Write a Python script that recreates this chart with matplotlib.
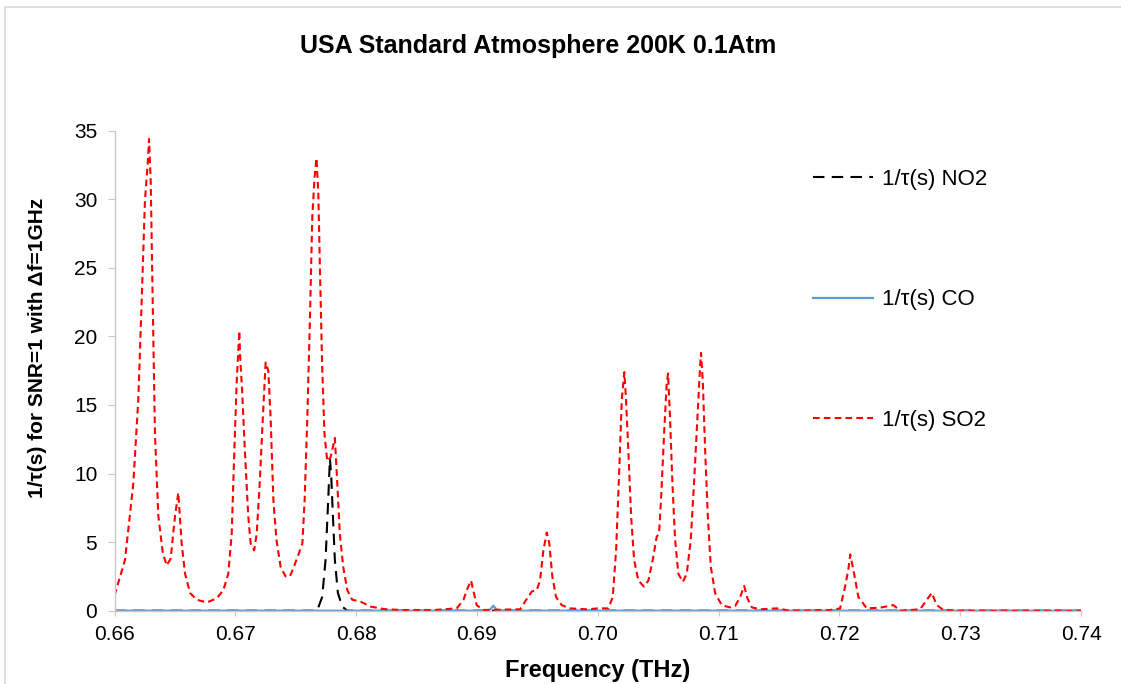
import matplotlib
matplotlib.use("Agg")
import matplotlib.pyplot as plt
from matplotlib.patches import Rectangle

plt.rcParams['font.family'] = ['Liberation Sans', 'DejaVu Sans']

# data: frequency (THz) / 1/tau (s)
so2_freq = [0.6600, 0.66087, 0.66156, 0.66197, 0.66225, 0.66252, 0.66275, 0.66286, 0.66300, 0.66316,
            0.66335, 0.66363, 0.66400, 0.66432, 0.66465, 0.66501, 0.66528, 0.66556, 0.66584, 0.66625,
            0.66680, 0.66764, 0.66846, 0.66901, 0.66942, 0.66970, 0.66992, 0.67011, 0.67033, 0.67040,
            0.67056, 0.67079, 0.67107, 0.67127, 0.67156, 0.67177, 0.67202, 0.67228, 0.67251, 0.67273,
            0.67292, 0.67315, 0.67340, 0.67375, 0.67416, 0.67452, 0.67485, 0.67527, 0.67555, 0.67574,
            0.67596, 0.67618, 0.67637, 0.67656, 0.67672, 0.67687, 0.67700, 0.67719, 0.67738, 0.67761,
            0.67789, 0.67824, 0.67844, 0.67865, 0.67893, 0.67927, 0.67968, 0.68037, 0.68120, 0.68230,
            0.68368, 0.68644, 0.68833, 0.68888, 0.68916, 0.68951, 0.68976, 0.68998, 0.69053, 0.69357,
            0.69407, 0.69454, 0.69495, 0.69522, 0.69550, 0.69578, 0.69599, 0.69624, 0.69655, 0.69702,
            0.69771, 0.69909, 0.70005, 0.70088, 0.70124, 0.70152, 0.70179, 0.70199, 0.70220, 0.70234,
            0.70253, 0.70276, 0.70301, 0.70336, 0.70383, 0.70419, 0.70455, 0.70488, 0.70507, 0.70524,
            0.70549, 0.70571, 0.70582, 0.70598, 0.70618, 0.70640, 0.70667, 0.70704, 0.70737, 0.70770,
            0.70797, 0.70825, 0.70847, 0.70855, 0.70870, 0.70889, 0.70911, 0.70936, 0.70972, 0.71027,
            0.71096, 0.71137, 0.71179, 0.71212, 0.71239, 0.71276, 0.71345, 0.71483, 0.71590, 0.71923,
            0.72006, 0.72047, 0.72074, 0.72090, 0.72122, 0.72157, 0.72227, 0.72337, 0.72447, 0.72502,
            0.72668, 0.72723, 0.72765, 0.72806, 0.72861, 0.72999, 0.7400]
so2_val = [1.1, 3.7, 9.3, 15.4, 22.6, 29.9, 32.6, 34.4, 31.2, 22.6,
           12.9, 6.9, 4.2, 3.3, 3.8, 6.9, 8.6, 4.9, 2.7, 1.3,
           0.8, 0.6, 0.9, 1.5, 2.7, 5.6, 11.7, 16.6, 20.4, 18.5,
           16.1, 11.7, 6.9, 4.9, 4.4, 5.6, 9.3, 14.1, 18.1, 17.5,
           14.1, 8.1, 5.2, 3.2, 2.5, 2.5, 3.2, 4.2, 4.9, 8.1,
           14.1, 21.4, 28.7, 31.6, 33.0, 30.4, 25.1, 17.8, 12.9, 10.9,
           11.2, 12.6, 9.3, 5.6, 3.2, 1.5, 0.8, 0.66, 0.3, 0.12,
           0.05, 0.05, 0.17, 0.78, 1.5, 2.2, 1.26, 0.4, 0.05, 0.1,
           0.78, 1.4, 1.5, 2.2, 4.4, 5.7, 4.9, 2.5, 1.0, 0.4,
           0.17, 0.1, 0.17, 0.17, 1.0, 4.4, 10.5, 15.4, 17.4, 15.4,
           11.7, 6.9, 3.7, 2.2, 1.75, 2.2, 3.7, 5.4, 5.6, 8.1,
           12.9, 16.6, 17.3, 14.1, 9.3, 5.2, 2.7, 2.1, 2.7, 5.2,
           9.3, 14.1, 17.8, 18.8, 16.6, 11.7, 6.9, 3.2, 1.26, 0.4,
           0.24, 0.34, 1.0, 1.8, 0.9, 0.24, 0.1, 0.17, 0.0, 0.05,
           0.17, 1.75, 3.0, 4.1, 2.7, 1.0, 0.17, 0.22, 0.41, 0.0,
           0.1, 0.78, 1.3, 0.41, 0.05, 0.0, 0.0]

no2_freq = [0.66, 0.67677, 0.67719, 0.67747, 0.67769, 0.67783, 0.67794, 0.67808, 0.67824,
            0.67849, 0.67885, 0.67927, 0.74]
no2_val = [0, 0, 1.0, 3.7, 8.1, 11.1, 9.8, 6.9, 3.7, 1.3, 0.3, 0.0, 0]

co_freq = [0.66, 0.6910, 0.69136, 0.6917, 0.74]
co_val = [0, 0, 0.36, 0, 0]

x_ticks = [0.66, 0.67, 0.68, 0.69, 0.70, 0.71, 0.72, 0.73, 0.74]
y_ticks = [0, 5, 10, 15, 20, 25, 30, 35]

fig = plt.figure(figsize=(11.21, 6.84), dpi=100)
ax = fig.add_axes([114.5/1121, 73.3/684, 966.5/1121, 480/684])

ax.plot(no2_freq, no2_val, color='black', lw=1.5, dashes=(5.5, 3.5), label='1/τ(s) NO2')
ax.plot(co_freq, co_val, color='#5B9BD5', lw=1.6, label='1/τ(s) CO')
ax.plot(so2_freq, so2_val, color='#FF0000', lw=1.5, dashes=(3.2, 2), label='1/τ(s) SO2')

ax.set_xlim(0.66, 0.74)
ax.set_ylim(0, 35)
ax.set_xticks(x_ticks)
ax.set_xticklabels(['%.2f' % t for t in x_ticks])
ax.set_yticks(y_ticks)
for s in ['top', 'right']:
    ax.spines[s].set_visible(False)
for s in ['left', 'bottom']:
    ax.spines[s].set_color('#C8C8C8')
    ax.spines[s].set_linewidth(1.0)
ax.tick_params(axis='x', direction='out', length=3.6, color='#C8C8C8', pad=6.5, labelsize=15)
ax.tick_params(axis='y', direction='out', length=5.4, color='#C8C8C8', pad=7, labelsize=15)

ax.legend(loc='center left', bbox_to_anchor=(813/1121, 1 - 300/684), bbox_transform=fig.transFigure,
          frameon=False, fontsize=16, borderpad=0, borderaxespad=0, handlelength=2.7,
          handletextpad=0.4, labelspacing=4.47)

fig.text(538/1121, 1 - 53/684, 'USA Standard Atmosphere 200K 0.1Atm', ha='center', va='baseline',
         fontsize=18, fontweight='bold')
fig.text(598/1121, 1 - 676.7/684, 'Frequency (THz)', ha='center', va='baseline',
         fontsize=17, fontweight='bold')
fig.text(37.5/1121, 1 - 348.3/684, '1/τ(s) for SNR=1 with Δf=1GHz', ha='center', va='center',
         rotation=90, fontsize=15, fontweight='bold')

# chart area border (top and left edges visible)
fig.patches.append(Rectangle((5/1121, -0.1), 1.2, 0.1 + (684 - 7)/684, transform=fig.transFigure,
                             fill=False, ec='#D9D9D9', lw=1.2))

fig.savefig('out.png', dpi=100)
